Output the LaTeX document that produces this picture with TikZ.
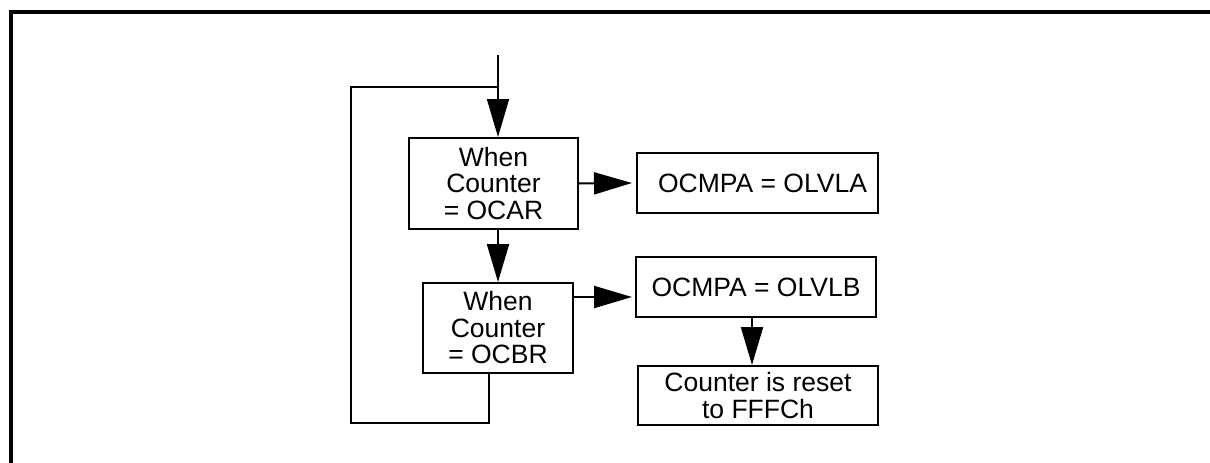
\documentclass[tikz,border=0pt]{standalone}
\usepackage{fontspec}
\setmainfont{Liberation Sans}
\usetikzlibrary{arrows.meta}
\tikzset{
  box/.style={draw, line width=2pt, inner sep=0pt, align=center,
    font=\fontsize{26.5}{26.5}\selectfont},
  conn/.style={line width=2pt},
  arr/.style={conn, -{Triangle[length=38pt,width=22pt]}},
  frameline/.style={line width=4pt}
}
\begin{document}
\begin{tikzpicture}[x=1pt,y=-1pt]
\useasboundingbox (0,0) rectangle (1210,463);
% frame
\draw[frameline] (11,463) -- (11,12) -- (1210,12);
% nodes
\node[box, minimum width=169pt, minimum height=91pt] (b1) at (493.5,183.5) {When\\Counter\\= OCAR};
\node[box, minimum width=150pt, minimum height=90pt] (b2) at (498,328) {When\\Counter\\= OCBR};
\node[box, minimum width=241pt, minimum height=60pt] (a) at (757.5,183) {\hspace*{10pt}OCMPA = OLVLA};
\node[box, minimum width=240pt, minimum height=60pt] (bb) at (756,287) {OCMPA = OLVLB};
\node[box, minimum width=240pt, minimum height=59pt] (r) at (758,395.5) {Counter is reset\\to FFFCh};
% coordinates
\coordinate (in) at (498,55);
\coordinate (j) at (498,87);
\coordinate (lb) at (489,423);
\coordinate (ll) at (351,423);
% connectors
\draw[arr] (in) -- (b1.north -| in);
\draw[arr] (b1.east) -- ([xshift=-4pt]a.west);
\draw[arr] (b1.south -| in) -- (b2.north -| in);
\draw[arr] ([yshift=31pt]b2.east) -- ([yshift=31pt,xshift=-3pt]b2.east -| bb.west);
\draw[arr] ([xshift=-4pt]bb.south) -- ([xshift=-4pt]bb.south |- r.north);
\draw[conn] (b2.south -| lb) -- (lb) -- (ll) |- (j);
\end{tikzpicture}
\end{document}
